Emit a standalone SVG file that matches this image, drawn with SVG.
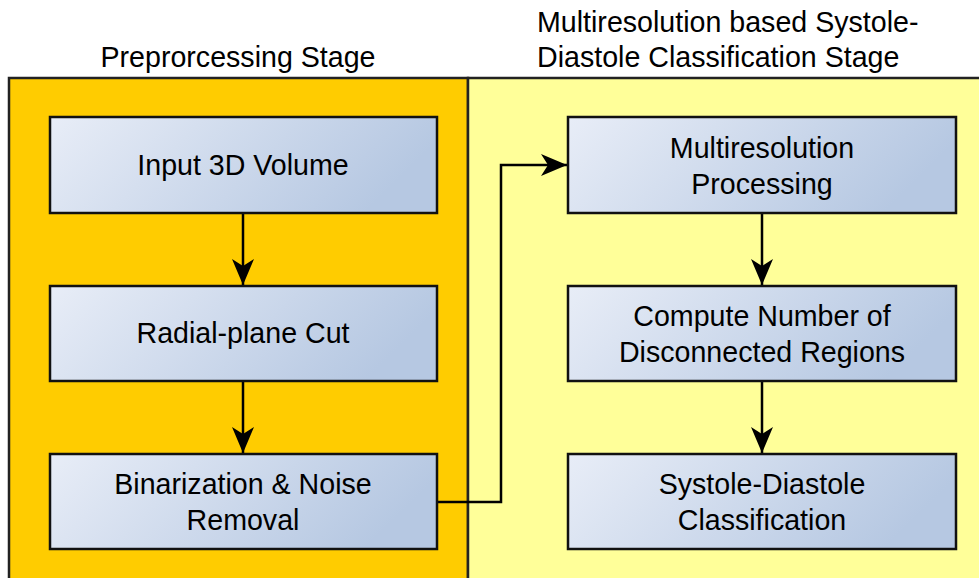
<svg xmlns="http://www.w3.org/2000/svg" width="979" height="578" viewBox="0 0 979 578">
<defs>
<linearGradient id="bg" x1="0" y1="0" x2="1" y2="0.25">
<stop offset="0" stop-color="#e8edf7"/>
<stop offset="1" stop-color="#b6c8e2"/>
</linearGradient>
<marker id="ah" markerWidth="28" markerHeight="22" refX="26" refY="11" orient="auto" markerUnits="userSpaceOnUse">
<path d="M0,0 L26,11 L0,22 L7,11 Z" fill="#000"/>
</marker>
</defs>
<style>
.box{fill:url(#bg);stroke:#111;stroke-width:2.5}
.t{font-family:"Liberation Sans",Arial,sans-serif;font-size:28.6px;fill:#000;text-anchor:middle}
.h{font-family:"Liberation Sans",Arial,sans-serif;font-size:28.6px;fill:#000}
.c{fill:none;stroke:#000;stroke-width:2.5}
</style>
<rect width="979" height="578" fill="#fff"/>
<g id="panel-left">
<rect x="9" y="78" width="459" height="520" fill="#ffcc00" stroke="#222" stroke-width="2.5"/>
<text class="h" x="238" y="67" text-anchor="middle">Preprorcessing Stage</text>
</g>
<g id="panel-right">
<rect x="468" y="78" width="530" height="520" fill="#ffff99" stroke="#222" stroke-width="2.5"/>
<text class="h" x="537" y="32">Multiresolution based Systole-</text>
<text class="h" x="537" y="67">Diastole Classification Stage</text>
</g>
<g id="connectors">
<line class="c" x1="243" y1="213" x2="243" y2="285" marker-end="url(#ah)"/>
<line class="c" x1="243" y1="381" x2="243" y2="453" marker-end="url(#ah)"/>
<polyline class="c" points="437,502 501,502 501,165 567,165" marker-end="url(#ah)"/>
<line class="c" x1="762" y1="213" x2="762" y2="285" marker-end="url(#ah)"/>
<line class="c" x1="762" y1="381" x2="762" y2="453" marker-end="url(#ah)"/>
</g>
<g id="n1"><rect class="box" x="50" y="117" width="387" height="96"/><text class="t" x="243" y="175">Input 3D Volume</text></g>
<g id="n2"><rect class="box" x="50" y="286" width="387" height="95"/><text class="t" x="243" y="343">Radial-plane Cut</text></g>
<g id="n3"><rect class="box" x="50" y="454" width="387" height="95"/><text class="t" x="243" y="494">Binarization &amp; Noise</text><text class="t" x="243" y="530">Removal</text></g>
<g id="n4"><rect class="box" x="568" y="117" width="388" height="96"/><text class="t" x="762" y="158">Multiresolution</text><text class="t" x="762" y="194">Processing</text></g>
<g id="n5"><rect class="box" x="568" y="286" width="388" height="95"/><text class="t" x="762" y="326">Compute Number of</text><text class="t" x="762" y="362">Disconnected Regions</text></g>
<g id="n6"><rect class="box" x="568" y="454" width="388" height="95"/><text class="t" x="762" y="494">Systole-Diastole</text><text class="t" x="762" y="530">Classification</text></g>
</svg>
